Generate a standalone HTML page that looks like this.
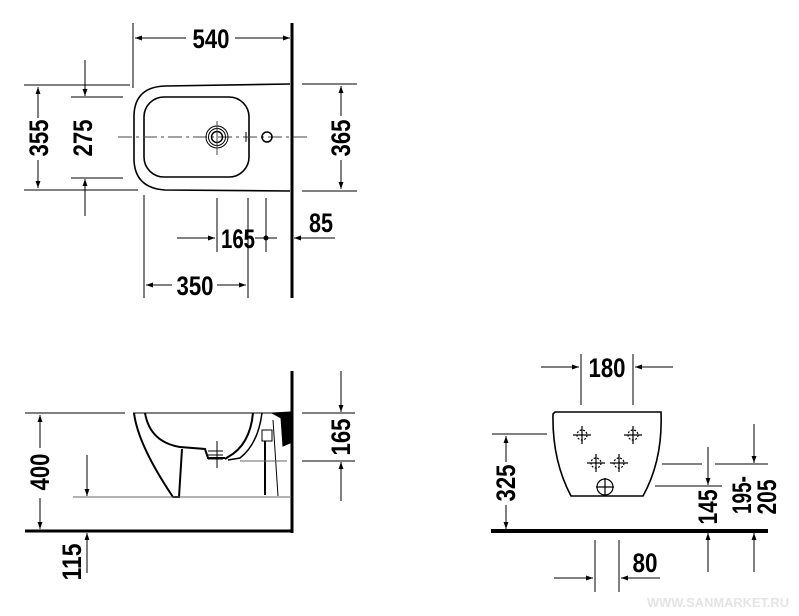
<!DOCTYPE html><html><head><style>html,body{margin:0;padding:0;background:#fff}svg{display:block}text{font-family:"Liberation Sans",sans-serif;font-weight:bold;font-size:27px;fill:#000}</style></head><body>
<svg width="799" height="616" viewBox="0 0 799 616" xmlns="http://www.w3.org/2000/svg">
<defs><marker id="a" viewBox="0 0 10 10" refX="10" refY="5" markerWidth="9" markerHeight="7" orient="auto-start-reverse" markerUnits="userSpaceOnUse"><path d="M0,1.5 L10,5 L0,8.5z" fill="#000"/></marker></defs>
<g stroke="#000" stroke-width="1" fill="none">
<!-- TOP VIEW -->
<line x1="292" y1="23" x2="292" y2="298" stroke-width="3"/>
<line x1="133" y1="23" x2="133" y2="88"/>
<line x1="135" y1="38" x2="186" y2="38" marker-start="url(#a)"/><line x1="235" y1="38" x2="290" y2="38" marker-end="url(#a)"/>
<path d="M290,84 L165,86 Q135,87 134,115 L134,160 Q135,188 165,190 L290,191" stroke-width="1.6"/>
<rect x="144" y="97" width="105" height="80" rx="20" stroke-width="1.6"/>
<line x1="118" y1="137" x2="308" y2="137" stroke-dasharray="14,4,3,4" stroke="#444"/>
<circle cx="217" cy="137" r="11"/><circle cx="217" cy="137" r="8.5"/><circle cx="217" cy="137" r="5.5" stroke-width="1.5"/>
<line x1="217" y1="121" x2="217" y2="155" stroke="#444"/>
<circle cx="267" cy="137" r="5" stroke-width="1.5"/><line x1="246" y1="132" x2="246" y2="142"/>
<line x1="24" y1="85" x2="130" y2="85"/><line x1="24" y1="190" x2="138" y2="190"/>
<line x1="38" y1="87" x2="38" y2="118" marker-start="url(#a)"/><line x1="38" y1="160" x2="38" y2="188" marker-end="url(#a)"/>
<line x1="71" y1="97" x2="123" y2="97"/><line x1="71" y1="178" x2="123" y2="178"/>
<line x1="85" y1="60" x2="85" y2="96" marker-end="url(#a)"/><line x1="85" y1="216" x2="85" y2="179" marker-end="url(#a)"/>
<line x1="302" y1="84" x2="357" y2="84"/><line x1="302" y1="191" x2="357" y2="191"/>
<line x1="341" y1="86" x2="341" y2="116" marker-start="url(#a)"/><line x1="341" y1="160" x2="341" y2="189" marker-end="url(#a)"/>
<line x1="217" y1="198" x2="217" y2="252"/><line x1="248" y1="198" x2="248" y2="298"/><line x1="266" y1="198" x2="266" y2="252"/>
<line x1="177" y1="238" x2="215" y2="238" marker-end="url(#a)"/><line x1="255" y1="238" x2="277" y2="238"/>
<circle cx="266" cy="238" r="2" fill="#000"/>
<line x1="335" y1="238" x2="294" y2="238" marker-end="url(#a)"/>
<line x1="144" y1="195" x2="144" y2="298"/>
<line x1="146" y1="285" x2="172" y2="285" marker-start="url(#a)"/><line x1="217" y1="285" x2="246" y2="285" marker-end="url(#a)"/>
<!-- SIDE VIEW -->
<line x1="292" y1="371" x2="292" y2="533" stroke-width="3"/>
<line x1="25" y1="531" x2="293" y2="531" stroke-width="3"/>
<line x1="25" y1="413" x2="125" y2="413"/>
<line x1="40" y1="415" x2="40" y2="448" marker-start="url(#a)"/><line x1="40" y1="498" x2="40" y2="529" marker-end="url(#a)"/>
<line x1="133" y1="413" x2="290" y2="413"/>
<path d="M134,413 Q138,445 173,497 L179,497 L182,449" stroke-width="2"/>
<path d="M145,413 Q150,442 180,447 L205,449 L208,458 L225,458" stroke-width="2"/>
<path d="M253,413 Q250,445 228,457 L225,459" stroke-width="2"/>
<path d="M262,413 Q258,444 240,458 L228,460" stroke-width="1.5"/>
<line x1="217" y1="441" x2="217" y2="468"/>
<path d="M208,451 h15 M208,455 h15 M208,459 h15"/>
<rect x="262" y="430" width="10" height="11"/><line x1="265" y1="441" x2="265" y2="495" stroke-width="2"/><line x1="273" y1="420" x2="278" y2="496"/>
<path d="M272,413 L290,412 L290,443 L283,446 L281,418z" fill="#000"/>
<line x1="73" y1="497" x2="290" y2="497" stroke="#666"/>
<line x1="87" y1="455" x2="87" y2="496" marker-end="url(#a)"/><line x1="87" y1="573" x2="87" y2="533" marker-end="url(#a)"/>
<line x1="240" y1="461" x2="287" y2="461" stroke="#666"/>
<line x1="302" y1="413" x2="355" y2="413"/><line x1="302" y1="461" x2="355" y2="461"/>
<line x1="341" y1="371" x2="341" y2="412" marker-end="url(#a)"/><line x1="341" y1="501" x2="341" y2="462" marker-end="url(#a)"/>
<!-- FRONT VIEW -->
<line x1="581" y1="354" x2="581" y2="405"/><line x1="633" y1="354" x2="633" y2="405"/>
<line x1="541" y1="367" x2="579" y2="367" marker-end="url(#a)"/><line x1="673" y1="367" x2="635" y2="367" marker-end="url(#a)"/>
<path d="M555,412 L661,412 Q663,460 643,496 L571,496 Q552,460 553,414z" stroke-width="1.6"/>
<line x1="492" y1="434" x2="547" y2="434"/>
<line x1="506" y1="436" x2="506" y2="462" marker-start="url(#a)"/><line x1="506" y1="505" x2="506" y2="529" marker-end="url(#a)"/>
<line x1="491" y1="531" x2="768" y2="531" stroke-width="4"/>
<line x1="662" y1="464" x2="702" y2="464"/><line x1="655" y1="486" x2="722" y2="486"/>
<line x1="708" y1="447" x2="708" y2="485" marker-end="url(#a)"/><line x1="708" y1="572" x2="708" y2="533" marker-end="url(#a)"/>
<line x1="715" y1="464" x2="768" y2="464"/>
<line x1="754" y1="424" x2="754" y2="463" marker-end="url(#a)"/><line x1="754" y1="572" x2="754" y2="533" marker-end="url(#a)"/>
<line x1="595" y1="540" x2="595" y2="592"/><line x1="619" y1="540" x2="619" y2="592"/>
<line x1="554" y1="578" x2="593" y2="578" marker-end="url(#a)"/><line x1="660" y1="578" x2="621" y2="578" marker-end="url(#a)"/>
<g stroke-width="1.2"><circle cx="582" cy="435" r="5" stroke-dasharray="2,1.5"/><path d="M573,435h18M582,426v18"/>
<circle cx="633" cy="435" r="5" stroke-dasharray="2,1.5"/><path d="M624,435h18M633,426v18"/>
<circle cx="596" cy="463" r="5" stroke-dasharray="2,1.5"/><path d="M587,463h18M596,454v18"/>
<circle cx="619" cy="463" r="5" stroke-dasharray="2,1.5"/><path d="M610,463h18M619,454v18"/>
<circle cx="605" cy="487" r="8"/><path d="M596,487h18M605,478v18"/></g>
</g>
<g>
<text x="211" y="48" text-anchor="middle" textLength="37" lengthAdjust="spacingAndGlyphs">540</text>
<text x="238" y="248" text-anchor="middle" textLength="34" lengthAdjust="spacingAndGlyphs">165</text>
<text x="321" y="232" text-anchor="middle" textLength="24" lengthAdjust="spacingAndGlyphs">85</text>
<text x="195" y="295" text-anchor="middle" textLength="37" lengthAdjust="spacingAndGlyphs">350</text>
<text transform="translate(48,138) rotate(-90)" text-anchor="middle" textLength="37" lengthAdjust="spacingAndGlyphs">355</text>
<text transform="translate(92,138) rotate(-90)" text-anchor="middle" textLength="37" lengthAdjust="spacingAndGlyphs">275</text>
<text transform="translate(350,138) rotate(-90)" text-anchor="middle" textLength="37" lengthAdjust="spacingAndGlyphs">365</text>
<text transform="translate(49,472) rotate(-90)" text-anchor="middle" textLength="37" lengthAdjust="spacingAndGlyphs">400</text>
<text transform="translate(81,562) rotate(-90)" text-anchor="middle" textLength="37" lengthAdjust="spacingAndGlyphs">115</text>
<text transform="translate(350,437) rotate(-90)" text-anchor="middle" textLength="37" lengthAdjust="spacingAndGlyphs">165</text>
<text x="607" y="377" text-anchor="middle" textLength="37" lengthAdjust="spacingAndGlyphs">180</text>
<text transform="translate(515,483) rotate(-90)" text-anchor="middle" textLength="37" lengthAdjust="spacingAndGlyphs">325</text>
<text transform="translate(717,507) rotate(-90)" text-anchor="middle" textLength="35" lengthAdjust="spacingAndGlyphs">145</text>
<text transform="translate(751,495) rotate(-90)" text-anchor="middle" textLength="38" lengthAdjust="spacingAndGlyphs">195-</text>
<text transform="translate(776,497) rotate(-90)" text-anchor="middle" textLength="35" lengthAdjust="spacingAndGlyphs">205</text>
<text x="645" y="572" text-anchor="middle" textLength="25" lengthAdjust="spacingAndGlyphs">80</text>
<text x="718" y="607" text-anchor="middle" style="font-size:13px;fill:#e4e4e4" textLength="142" lengthAdjust="spacingAndGlyphs">WWW.SANMARKET.RU</text>
</g>
</svg></body></html>
